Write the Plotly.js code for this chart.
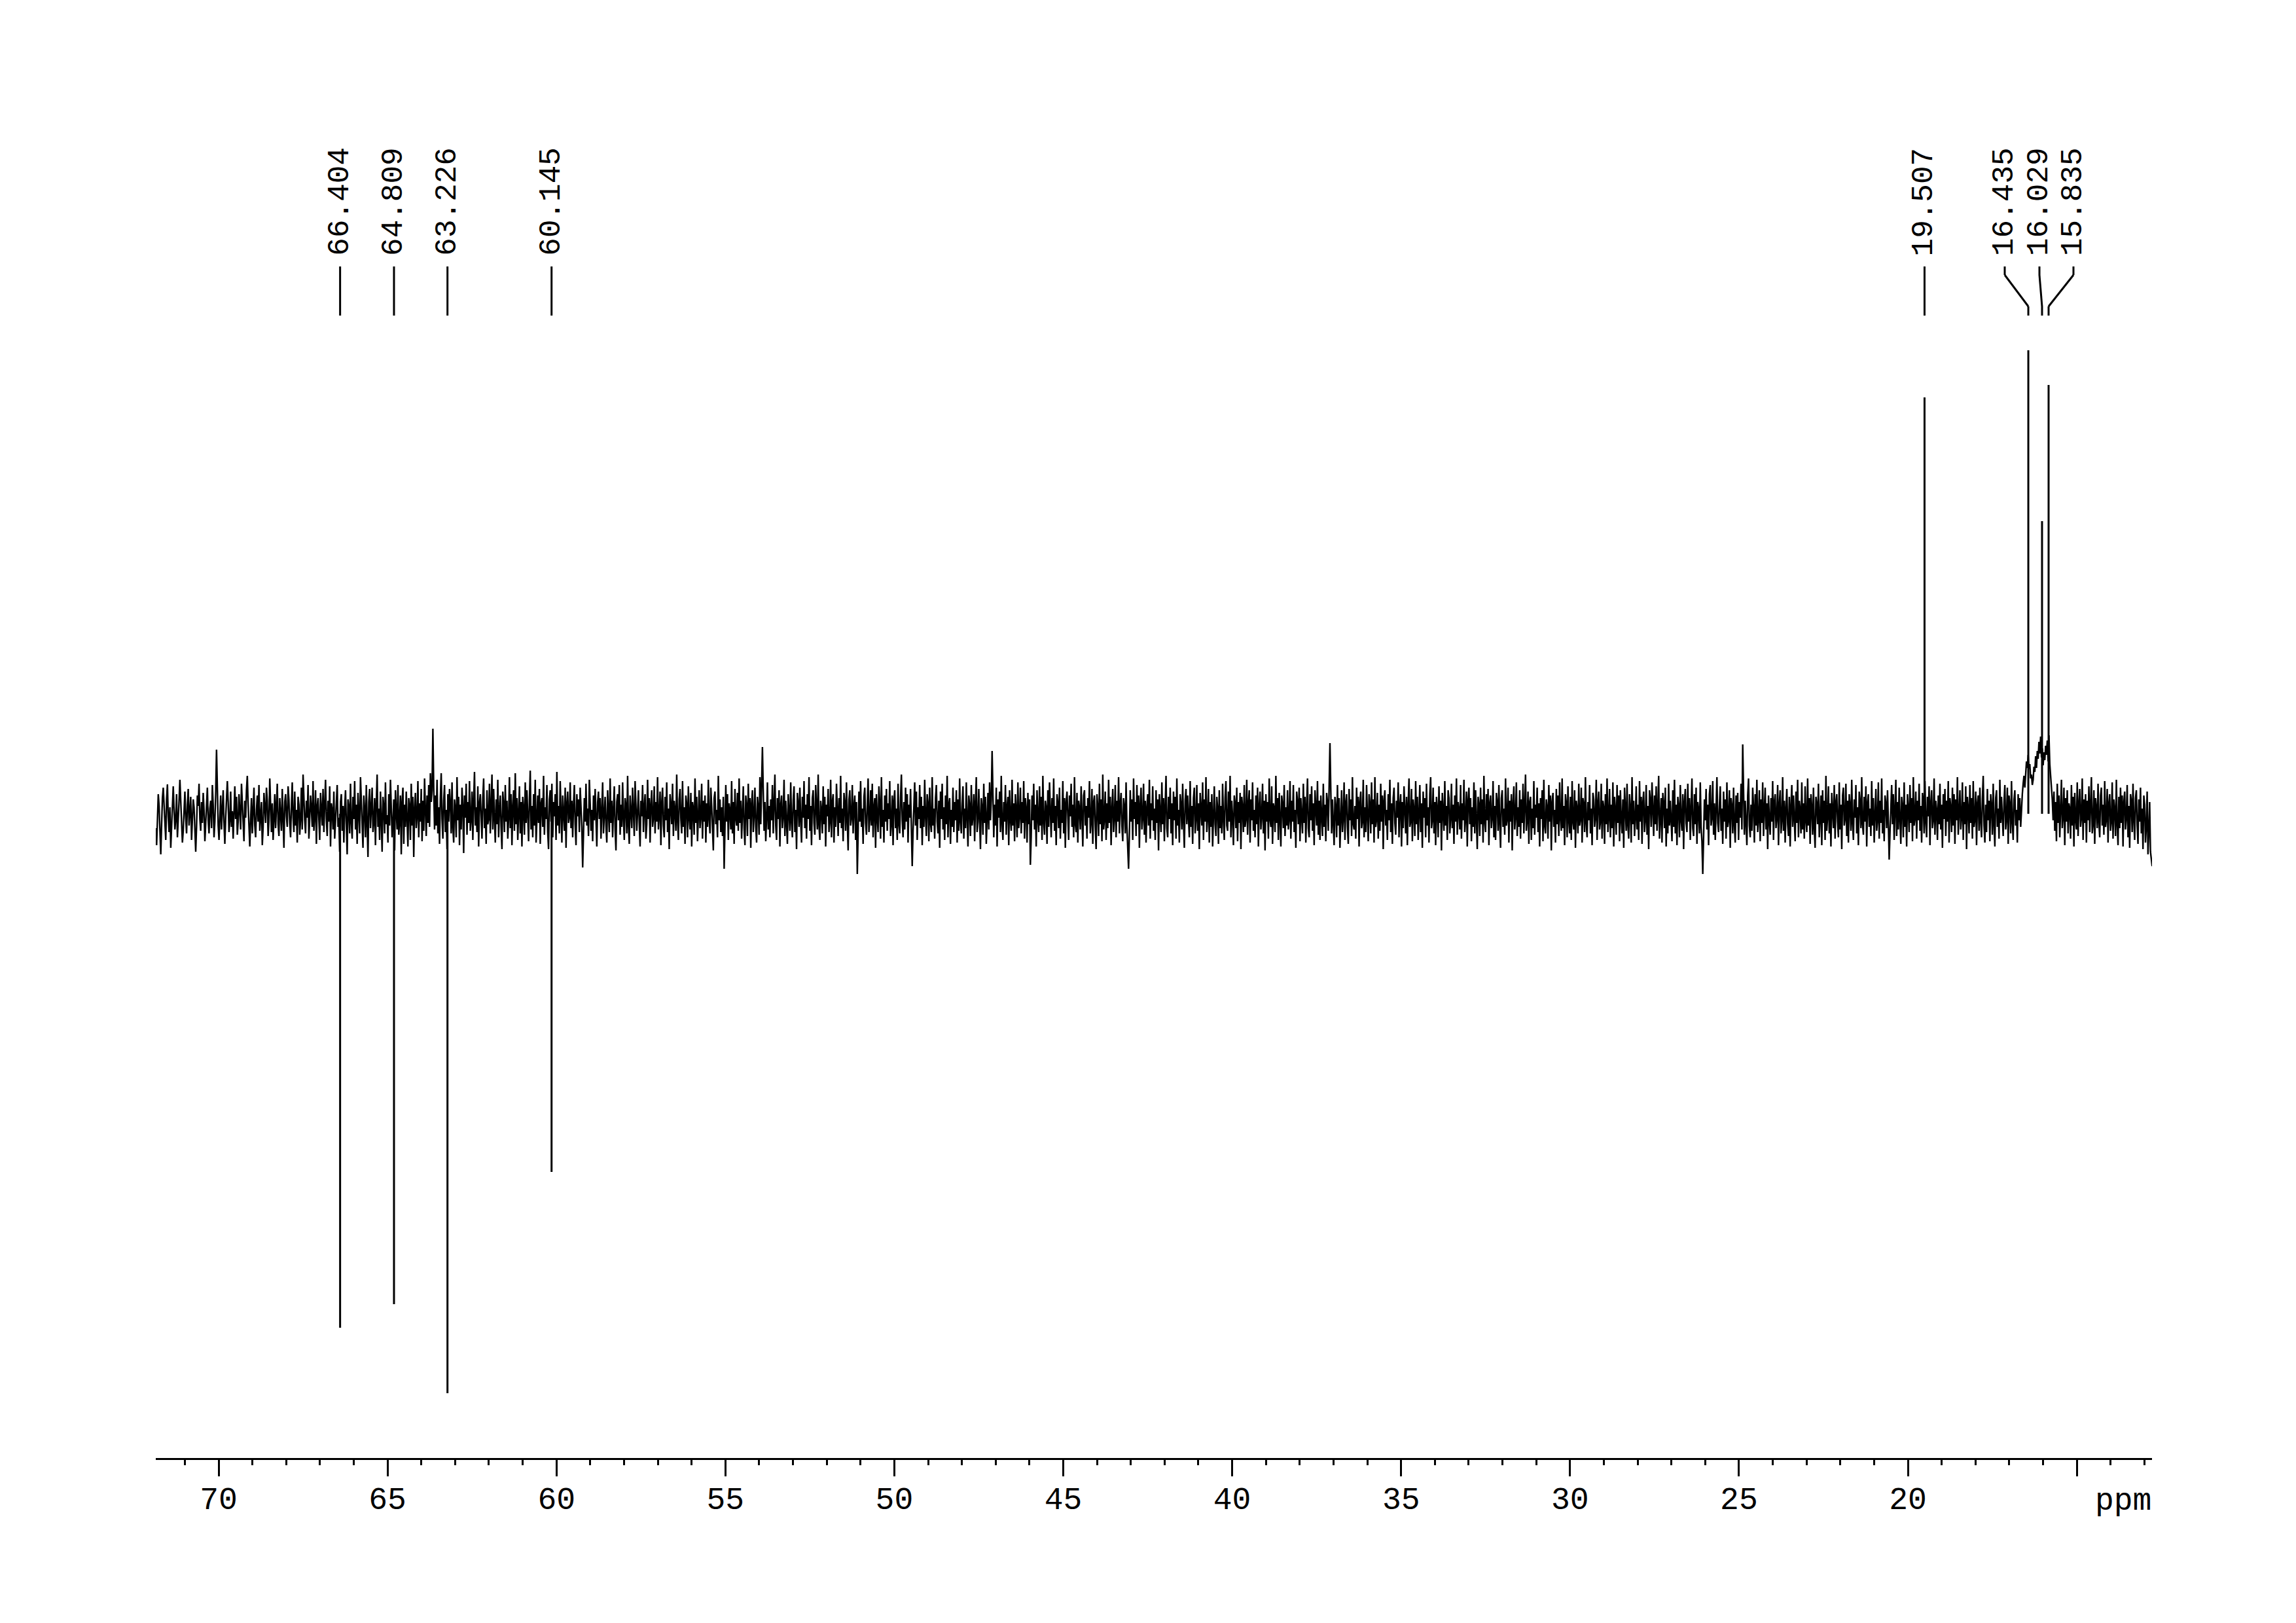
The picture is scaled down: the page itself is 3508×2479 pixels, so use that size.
<!DOCTYPE html>
<html>
<head>
<meta charset="utf-8">
<script src="https://cdn.plot.ly/plotly-3.0.1.min.js"></script>
<style>html,body{margin:0;padding:0;background:#fff;}</style>
</head>
<body>
<div id="chart" style="width:3508px;height:2479px;"></div>
<script>
// ---- DATA ----
// spectrum window (ppm of first and last sample)
const specRange = [71.86, 12.77];
// baseline noise (arbitrary intensity units)
const noise = [
-22,-48,-10,30,12,-35,-62,-18,24,40,8,-15,-40,22,45,-5,-28,10,-52,-20,
18,42,6,-24,-8,30,-36,-14,20,52,16,-12,-44,-26,8,34,-6,-30,14,38,
-18,4,26,-40,-12,22,10,-34,-58,-20,28,12,46,-8,-26,18,-14,32,6,-42,
-16,24,40,-10,-30,8,20,-22,44,14,-36,-12,30,98,22,-18,-40,6,28,-24,
10,36,-14,-46,-6,22,50,18,-28,-10,34,-20,4,-38,16,42,-8,26,-32,-12,
30,8,-24,46,12,-16,-42,20,-6,36,58,14,-22,-50,-8,24,-30,10,40,-18,
-36,6,28,-12,44,-26,-4,18,-48,-20,32,12,-14,40,20,-34,-10,54,8,-28,
16,-40,-8,30,-22,10,46,-16,-34,24,4,-26,38,-12,-52,18,30,-4,-20,42,
22,-14,-36,12,48,-6,-28,34,-18,6,-44,26,14,-32,-8,40,-24,60,16,-10,
-30,20,-6,44,-38,-12,28,8,-20,50,-26,-4,36,-46,12,24,-16,-40,32,10,
-18,38,-28,14,52,-8,-34,20,-12,42,-50,16,6,-24,34,-38,-10,28,44,-20,
-6,-58,18,30,-26,12,-44,8,36,-16,-62,22,10,-30,46,-12,-38,26,-8,50,
-24,14,-46,32,-4,-30,56,20,-18,-52,28,6,-36,44,-14,-66,18,38,-22,4,
40,-28,-12,24,-48,16,60,-20,8,-40,34,-8,-58,26,12,-30,48,-16,-2,-44,
30,-18,52,10,-36,-14,22,-56,36,4,-24,44,-32,-10,28,-62,18,40,-46,14,
-20,34,-8,-50,24,12,-40,46,-18,26,-66,8,32,-22,-4,50,-36,16,-12,38,
-42,20,-26,54,6,-34,28,-14,44,-20,62,18,36,130,40,-24,28,-18,52,-30,
10,-46,24,62,-8,-38,20,44,-28,6,-54,30,-12,38,16,-30,48,-20,-44,22,
8,-36,56,-10,26,-48,14,-24,40,12,-60,28,-6,46,-32,18,-14,50,-26,-8,
34,-40,20,64,-18,10,-28,42,-50,16,30,-12,-38,24,54,-22,8,-46,36,-16,
-8,46,-30,12,60,-24,38,-6,-44,22,-16,52,-36,8,28,-20,-54,34,14,-28,
44,-12,20,-38,-6,56,-22,30,-48,10,36,-26,62,-16,24,-40,-4,42,-30,18,
-50,26,8,-32,48,-14,36,-8,-42,20,66,-24,12,-36,30,-18,52,-44,6,28,
-14,38,-46,16,24,-20,58,-32,10,-8,44,-28,-54,22,36,-12,46,-36,18,-4,
30,-40,64,-18,12,-30,50,-10,-44,28,6,-26,40,-52,16,34,-14,-6,48,-22,
20,-36,14,44,-16,-48,30,-4,22,-28,40,10,-20,-82,-30,24,-12,46,-18,8,
-34,52,16,-26,6,-42,28,-10,38,-22,-50,18,34,-8,24,-38,12,48,-30,-4,
26,-18,-44,36,10,-28,54,-14,20,-36,8,42,-24,-56,18,30,-10,44,-32,14,
-20,48,-6,-40,24,12,-30,58,-18,-46,28,6,-22,40,-12,-34,50,16,-26,4,
36,-14,-50,20,-4,44,-28,10,30,-38,-16,52,-8,24,-44,14,36,-20,-6,42,
-30,18,-12,56,-24,-2,34,-48,16,40,-18,-36,26,-10,48,-28,8,-54,30,12,
-16,46,-34,20,4,-26,60,-12,-40,22,38,-8,-30,50,-20,10,-46,28,14,-36,
42,-6,-24,32,-50,18,8,-32,54,-14,26,-42,10,36,-22,-4,46,-38,20,-12,
28,-44,16,-20,52,-8,-30,40,12,-26,-56,24,34,-16,6,-36,58,-10,22,-28,
10,-34,26,-84,-20,44,-12,30,-40,16,4,-24,50,-30,18,-46,38,-6,-18,32,
-26,54,-14,20,-38,8,42,-22,-48,28,12,-34,46,-8,24,-52,16,36,-28,-2,
40,-20,-44,26,10,-32,56,-16,30,102,34,-26,18,-42,-6,48,-24,12,-36,22,
-10,44,-30,16,60,-18,-40,24,-8,36,-50,14,28,-22,-4,52,-34,20,-14,-46,
30,8,-26,48,-12,-36,20,42,-28,6,-54,32,16,-20,40,-10,-44,26,-6,50,
-22,14,-38,30,-8,56,-26,12,-48,24,36,-14,-32,44,8,-24,60,-18,-40,20,
6,-30,42,-16,26,-50,14,-4,38,-28,-12,52,-36,18,30,-44,10,-20,46,-8,
-34,24,-14,58,-22,8,-42,32,16,-26,48,-10,-56,22,36,-18,-6,44,-30,12,
28,-40,18,-92,-24,34,-12,50,-20,8,-46,26,40,-14,-32,20,54,-28,-8,36,
-18,46,-36,10,24,-52,30,-6,-28,42,14,-38,56,-20,6,-44,28,-12,38,-26,
16,-8,50,-34,-14,28,-48,20,36,-22,8,-40,46,-16,-30,24,60,-10,-36,18,
-24,40,-12,30,-44,14,-6,38,-30,-80,-26,22,48,-18,34,-40,10,-8,44,-22,
26,-48,12,-20,52,-4,-34,30,16,-42,40,-14,-28,56,-18,8,-38,24,44,-12,
-30,20,-52,34,-8,46,-24,10,-40,28,-16,58,-36,14,24,-46,6,-20,40,-28,
18,-10,36,-44,22,-26,54,-12,-30,16,42,-38,8,-22,48,-6,-50,28,12,-34,
44,-18,-4,30,-42,16,56,-28,-12,38,-20,-54,24,10,-32,46,-14,26,-46,8,
32,-24,48,-10,20,96,28,-36,14,-18,40,-50,22,-6,34,-28,58,-14,-40,18,
-12,44,-32,10,26,-48,36,-8,-26,52,-18,16,-42,30,6,-36,48,-22,-4,40,
-30,18,-14,50,-38,24,8,-44,32,-16,22,-78,-34,28,-10,46,-24,14,-50,36,
-6,-28,42,-18,26,-40,58,-12,-32,20,10,-46,36,-20,48,-8,-36,24,-14,54,
-26,12,-48,30,16,-22,40,-38,6,-14,50,-30,24,-52,18,34,-10,-40,28,-4,
46,-20,14,-36,56,-16,-28,32,-44,20,8,-24,42,-12,-50,28,36,-18,12,-38,
24,-6,50,-30,-12,38,-46,18,28,-20,-54,30,10,-34,46,-16,22,-42,60,-24,
-8,34,-40,16,-22,52,-14,26,-48,8,38,-28,-6,44,-36,20,-12,56,-30,14,
32,-18,-42,24,10,-30,48,-20,-50,-84,-28,36,-12,22,-40,54,-8,18,-34,44,
-16,28,-52,14,40,-24,-6,46,-32,20,-44,10,30,-18,52,-38,16,-10,42,-26,
8,-40,36,-14,22,-56,30,-4,-28,48,-16,24,-42,12,58,-22,-36,26,-8,40,
-30,16,-48,34,-10,26,-38,54,-18,6,-44,30,14,-24,46,-12,-52,20,38,-16,
28,-6,-36,50,-20,12,-46,24,40,-30,-8,44,-26,16,-54,32,10,-18,48,-40,
22,-12,56,-28,-4,38,-44,18,-20,30,-50,14,42,-16,-34,26,8,-46,36,-22,
12,-30,46,-8,-40,24,50,-18,-26,34,-12,58,-36,20,-6,-48,28,16,-22,40,
-42,18,-14,32,-54,26,10,-28,44,-20,-8,52,-32,14,36,-44,22,-10,48,-26,
6,-36,28,-16,40,-50,12,34,-24,-4,46,-30,20,-56,30,-12,18,-38,54,-8,
-20,42,-46,16,8,-28,58,-14,24,-40,32,-6,-50,28,14,-22,44,-34,10,-18,
36,-24,-8,50,-38,20,-12,44,-28,6,-52,34,18,-16,40,-42,24,-4,-30,46,
-14,26,-44,12,54,-22,-36,30,-10,42,-26,16,-48,36,8,-18,50,-32,20,-40,
28,-12,-34,46,-20,14,-42,32,18,-26,40,108,36,-30,22,-14,-48,26,10,-36,
44,-18,24,-52,8,36,-28,-6,48,-40,16,30,-20,-46,38,-10,22,-34,56,-16,
-24,12,-38,40,-8,26,-50,18,34,-22,-12,52,-36,10,-28,44,-4,-42,30,14,
-30,48,-16,22,-44,56,-20,-8,32,-38,14,-26,46,-12,28,-54,20,36,-18,6,
-40,30,-10,52,-28,16,-46,24,40,-14,-32,20,-6,48,-36,12,30,-50,18,-22,
42,-8,-30,26,-48,14,54,-20,-12,38,-42,22,6,-34,50,-16,26,-40,-4,44,
-28,16,-52,34,-6,24,-36,46,-18,10,-44,30,56,-22,-10,40,-30,18,-48,26,
8,-36,42,-14,20,-56,32,-4,-26,50,-18,12,-40,36,24,-30,-8,46,-22,14,
-46,28,-12,54,-32,18,6,-24,44,-38,16,-10,52,-28,-6,34,-50,20,40,-16,
24,-42,10,-20,48,-30,36,-8,-54,26,14,-34,40,-16,22,-44,58,-12,-28,30,
-10,38,-48,16,28,-22,-6,50,-36,12,-40,32,18,-26,44,-14,-52,24,36,-20,
8,-32,54,-18,-8,40,-44,20,-12,30,-56,16,42,-24,-4,48,-34,10,-20,36,
-38,22,-14,46,-30,12,60,-26,-10,34,-46,18,26,-40,8,-22,50,-32,14,-6,
40,-28,16,-50,24,-8,36,-42,52,-18,-30,22,10,-38,44,-12,28,-56,18,32,
-20,6,-44,38,-16,28,-34,48,-6,-26,54,-22,12,-48,30,16,-36,42,-10,-30,
26,-40,50,-12,-24,36,-52,20,8,-30,46,-18,-8,40,-44,24,14,-28,56,-14,
-36,18,-10,44,-30,8,-48,32,22,-20,-6,52,-40,16,34,-24,-12,46,-38,20,
10,-46,30,-16,54,-28,-4,38,-36,14,-22,48,-50,26,6,-32,44,-14,28,-42,
36,-8,-30,22,-52,40,12,-26,46,-18,-38,30,8,-44,56,-16,20,-34,-6,42,
-24,14,-40,50,-12,26,-46,18,34,-28,-10,44,-32,12,-54,36,22,-20,48,-8,
-34,28,-16,42,-26,10,58,-38,-14,24,-44,32,16,-22,40,-50,8,-30,46,-18,
20,-6,-42,36,-20,52,-30,14,-48,26,12,-36,44,-10,-26,30,-54,18,38,-14,
-28,46,-12,24,-40,8,54,-22,-34,30,-16,40,-46,18,6,-30,48,-20,-42,-92,
-36,22,-10,38,-24,14,-48,30,44,-18,-6,50,-32,16,-40,26,56,-14,-28,12,
42,-26,8,-46,34,-12,22,-38,48,-20,-8,36,-52,24,12,-30,40,-16,-44,28,
-14,32,-40,18,-6,46,-24,106,38,-32,20,-12,-48,28,54,-18,-36,14,-26,40,
10,-44,30,-18,52,-28,-8,36,-42,22,-14,48,-34,6,40,-24,16,-54,28,-10,
-32,24,-12,50,-40,18,30,-22,-6,44,-48,14,36,-30,-10,56,-26,20,-44,8,
38,-16,-34,26,-50,12,44,-20,28,-8,-42,34,-14,52,-36,20,6,-30,48,-24,
16,-38,42,-10,-28,54,-18,24,-46,30,10,-32,40,-22,-52,26,14,-16,46,-36,
-8,28,-48,36,-14,20,-40,58,-26,-4,42,-30,16,-50,32,8,-22,44,-38,18,
30,-12,-36,48,-24,14,-54,28,40,-18,-8,46,-34,20,-44,30,12,-26,52,-14,
-40,22,-6,44,-30,10,-48,34,18,-22,56,-16,-32,26,-12,42,-50,16,30,-20,
8,-34,50,-18,24,-44,12,38,-26,-10,48,-38,20,-14,54,-30,6,-42,28,16,
-22,36,-12,-70,-28,20,44,-16,30,-40,10,52,-34,18,-24,40,-8,-46,26,12,
-36,48,-20,14,-50,30,8,-28,44,-14,24,-42,56,-18,-6,34,-38,20,-10,46,
-26,12,-44,32,18,-30,50,-12,-36,26,-4,42,-48,16,36,-22,-10,54,-32,20,
6,-40,28,-16,46,-24,14,-52,30,-8,38,-34,20,-12,50,-44,24,10,-28,40,
-18,30,-46,22,-10,56,-32,12,36,-24,-6,48,-40,18,-16,42,-54,26,8,-30,
44,-14,24,-38,50,-20,-8,34,-48,16,28,-26,40,-12,-36,22,58,-18,-44,14,
-28,38,-10,20,-42,30,12,-32,46,-16,-50,24,36,-20,8,-38,52,-14,26,-6,
-34,18,44,-24,-8,40,-46,28,14,-30,50,-12,-40,22,36,-18,6,-44,30,-10,
24,-20,12,30,46,58,40,62,80,70,90,68,76,54,60,44,52,72,64,88,
70,96,84,110,92,118,86,100,74,94,82,104,90,112,80,120,76,58,40,22,
-10,34,-26,18,-42,46,-14,28,-36,10,52,-22,-4,40,-48,24,-12,36,-30,16,
8,-38,44,-18,26,-50,32,-8,-24,48,-34,14,38,-20,-6,54,-40,22,-14,30,
-44,20,-10,42,-28,12,56,-30,-16,36,-46,24,8,-22,46,-12,-36,28,40,-18,
14,-32,50,-20,-8,38,-44,16,30,-26,-12,48,-38,22,6,-34,52,-16,-48,26,
-22,40,-14,28,-50,18,34,-24,-6,44,-36,12,-52,30,20,-28,46,-10,-40,24,
36,-18,-46,22,-12,40,-30,8,-54,28,14,-44,-20,34,-62,-26,18,-58,-72,-80
];
// peaks: chemical shift (ppm) and intensity (arbitrary units; negative = inverted)
const peakPpm = [66.404, 64.809, 63.226, 60.145, 19.507, 16.435, 16.029, 15.835];
const peakInt = [-785, -749, -885, -547, 636, 708, 447, 655];
const peakLabels = ['66.404', '64.809', '63.226', '60.145', '19.507', '16.435', '16.029', '15.835'];
// axis ticks
const tickVals = [70, 65, 60, 55, 50, 45, 40, 35, 30, 25, 20, 15];
const tickText = ['70', '65', '60', '55', '50', '45', '40', '35', '30', '25', '20', ''];

// ---- LAYOUT CONSTANTS (positions, not data) ----
const labelX = [66.404, 64.809, 63.226, 60.145, 19.507, 17.133, 16.106, 15.099];
const yLeadTop = 836, yLeadKnee1 = 823, yLeadKnee2 = 775, yLeadBot = 761, yLabel = 850;
const FONT = 'Liberation Mono, Courier New, monospace';

// ---- TRACES ----
const specTrace = {
  type: 'scatter', mode: 'lines',
  x0: specRange[0], dx: (specRange[1] - specRange[0]) / (noise.length - 1), y: noise,
  line: {color: '#000', width: 2.4}, hoverinfo: 'skip'
};
const px = [], py = [];
peakPpm.forEach((p, i) => { px.push(p, p, null); py.push(0, peakInt[i], null); });
const peakTrace = {
  type: 'scatter', mode: 'lines', x: px, y: py,
  line: {color: '#000', width: 3}, hoverinfo: 'skip'
};

// ---- LEADER LINES AND LABELS ----
const shapes = [];
const annotations = [];
peakPpm.forEach((p, i) => {
  const lx = labelX[i];
  const ln = {color: '#000', width: 3};
  if (Math.abs(lx - p) < 1e-6) {
    shapes.push({type: 'line', xref: 'x', yref: 'y', x0: p, x1: p, y0: yLeadBot, y1: yLeadTop, line: ln});
  } else {
    shapes.push({type: 'line', xref: 'x', yref: 'y', x0: lx, x1: lx, y0: yLeadTop, y1: yLeadKnee1, line: ln});
    shapes.push({type: 'line', xref: 'x', yref: 'y', x0: lx, x1: p, y0: yLeadKnee1, y1: yLeadKnee2, line: ln});
    shapes.push({type: 'line', xref: 'x', yref: 'y', x0: p, x1: p, y0: yLeadKnee2, y1: yLeadBot, line: ln});
  }
  annotations.push({
    text: peakLabels[i], x: lx, y: yLabel, xref: 'x', yref: 'y',
    textangle: -90, xanchor: 'center', yanchor: 'bottom', showarrow: false,
    font: {family: FONT, size: 46, color: '#000'}
  });
});
annotations.push({
  text: 'ppm', x: 0.9856, y: -0.031, xref: 'paper', yref: 'paper',
  xanchor: 'center', yanchor: 'middle', showarrow: false,
  font: {family: FONT, size: 48, color: '#000'}
});

const layout = {
  width: 3508, height: 2479,
  margin: {l: 238, r: 220, t: 100, b: 252, pad: 0},
  paper_bgcolor: '#fff', plot_bgcolor: '#fff',
  showlegend: false,
  xaxis: {
    range: [71.86, 12.774], showgrid: false, zeroline: false,
    showline: true, linecolor: '#000', linewidth: 3,
    tickmode: 'array', tickvals: tickVals, ticktext: tickText,
    ticks: 'outside', ticklen: 25, tickwidth: 3, tickcolor: '#000',
    ticklabelstandoff: -8,
    tickfont: {family: FONT, size: 48, color: '#000'},
    minor: {tickmode: 'linear', tick0: 0, dtick: 1, ticks: 'outside', ticklen: 8, tickwidth: 3, tickcolor: '#000', showgrid: false}
  },
  yaxis: {range: [-984, 1143], visible: false, showgrid: false, zeroline: false},
  shapes: shapes,
  annotations: annotations
};

Plotly.newPlot('chart', [specTrace, peakTrace], layout, {staticPlot: true, displayModeBar: false});
</script>
</body>
</html>
